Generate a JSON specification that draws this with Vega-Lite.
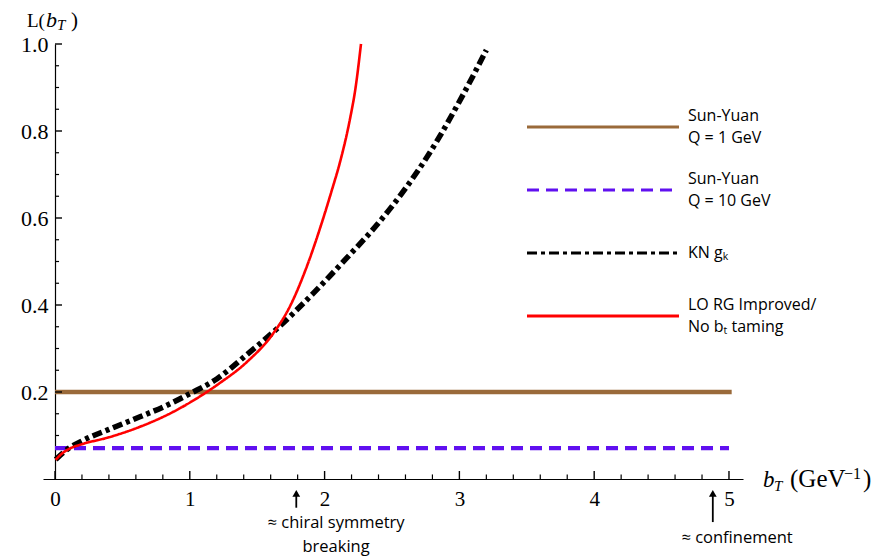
{
  "$schema": "https://vega.github.io/schema/vega-lite/v6.json",
  "width": 700,
  "height": 435,
  "autosize": {"type": "none"},
  "padding": {"left": 43, "top": 44, "right": 141, "bottom": 80},
  "background": "white",
  "config": {
    "view": {"stroke": null},
    "axis": {
      "grid": false,
      "title": null,
      "labelFont": "Liberation Serif",
      "labelColor": "black",
      "domainColor": "black",
      "tickColor": "black",
      "domainWidth": 1.2,
      "labelFlush": false,
      "labelOverlap": false
    },
    "legend": {
      "orient": "none",
      "legendX": 552,
      "legendY": 75,
      "title": null,
      "padding": 0,
      "symbolType": "M-19,0H19",
      "symbolSize": 64,
      "symbolStrokeWidth": 3,
      "labelFont": "Open Sans",
      "labelFontSize": 16,
      "labelColor": "black",
      "labelOffset": 77,
      "labelLimit": 400,
      "rowPadding": 25
    }
  },
  "data": {
    "values": [
      {"series": "Sun-Yuan Q = 1 GeV", "b": 0, "L": 0.2},
      {"series": "Sun-Yuan Q = 1 GeV", "b": 5.02, "L": 0.2},
      {"series": "Sun-Yuan Q = 10 GeV", "b": 0, "L": 0.071},
      {"series": "Sun-Yuan Q = 10 GeV", "b": 5.0, "L": 0.071},
      {"series": "KN gK", "b": 0.005, "L": 0.045},
      {"series": "KN gK", "b": 0.1, "L": 0.07},
      {"series": "KN gK", "b": 0.21, "L": 0.089},
      {"series": "KN gK", "b": 0.4, "L": 0.114},
      {"series": "KN gK", "b": 0.63, "L": 0.143},
      {"series": "KN gK", "b": 0.82, "L": 0.168},
      {"series": "KN gK", "b": 1.0, "L": 0.196},
      {"series": "KN gK", "b": 1.2, "L": 0.23},
      {"series": "KN gK", "b": 1.42, "L": 0.285},
      {"series": "KN gK", "b": 1.67, "L": 0.352},
      {"series": "KN gK", "b": 1.91, "L": 0.425},
      {"series": "KN gK", "b": 2.17, "L": 0.51},
      {"series": "KN gK", "b": 2.39, "L": 0.585},
      {"series": "KN gK", "b": 2.6, "L": 0.668},
      {"series": "KN gK", "b": 2.78, "L": 0.75},
      {"series": "KN gK", "b": 3.03, "L": 0.885},
      {"series": "KN gK", "b": 3.2, "L": 0.986},
      {"series": "LO RG Improved/ No bT taming", "b": 0.005, "L": 0.044},
      {"series": "LO RG Improved/ No bT taming", "b": 0.05, "L": 0.058},
      {"series": "LO RG Improved/ No bT taming", "b": 0.11, "L": 0.07},
      {"series": "LO RG Improved/ No bT taming", "b": 0.2, "L": 0.08},
      {"series": "LO RG Improved/ No bT taming", "b": 0.39, "L": 0.095},
      {"series": "LO RG Improved/ No bT taming", "b": 0.63, "L": 0.12},
      {"series": "LO RG Improved/ No bT taming", "b": 0.875, "L": 0.154},
      {"series": "LO RG Improved/ No bT taming", "b": 1.076, "L": 0.19},
      {"series": "LO RG Improved/ No bT taming", "b": 1.22, "L": 0.22},
      {"series": "LO RG Improved/ No bT taming", "b": 1.42, "L": 0.268},
      {"series": "LO RG Improved/ No bT taming", "b": 1.62, "L": 0.335},
      {"series": "LO RG Improved/ No bT taming", "b": 1.74, "L": 0.395},
      {"series": "LO RG Improved/ No bT taming", "b": 1.87, "L": 0.49},
      {"series": "LO RG Improved/ No bT taming", "b": 1.97, "L": 0.58},
      {"series": "LO RG Improved/ No bT taming", "b": 2.05, "L": 0.66},
      {"series": "LO RG Improved/ No bT taming", "b": 2.12, "L": 0.735},
      {"series": "LO RG Improved/ No bT taming", "b": 2.19, "L": 0.83},
      {"series": "LO RG Improved/ No bT taming", "b": 2.23, "L": 0.9},
      {"series": "LO RG Improved/ No bT taming", "b": 2.27, "L": 1.0}
    ]
  },
  "layer": [
    {
      "transform": [{"filter": "indexof(datum.series, 'Sun-Yuan') === 0"}],
      "mark": {"type": "line", "strokeWidth": 4.3, "clip": false},
      "encoding": {
        "x": {
          "field": "b", "type": "quantitative",
          "scale": {"domain": [-0.089, 5.104], "nice": false, "zero": false},
          "axis": {"orient": "bottom", "values": [0, 1, 2, 3, 4, 5], "format": "d", "labelFontSize": 21, "ticks": false, "labelPadding": 9}
        },
        "y": {
          "field": "L", "type": "quantitative",
          "scale": {"domain": [0, 1], "nice": false, "zero": false},
          "axis": {"orient": "left", "offset": -12, "values": [0.2, 0.4, 0.6, 0.8, 1.0], "format": ".1f", "labelFontSize": 22, "ticks": false, "labelPadding": 7}
        },
        "color": {
          "field": "series", "type": "nominal",
          "scale": {"domain": ["Sun-Yuan Q = 1 GeV", "Sun-Yuan Q = 10 GeV", "KN gK", "LO RG Improved/ No bT taming"], "range": ["#9a6a3a", "#6010f0", "#000000", "#ff0000"]},
          "legend": {
            "labelExpr": "datum.label == 'Sun-Yuan Q = 1 GeV' ? ['Sun-Yuan', 'Q = 1 GeV'] : datum.label == 'Sun-Yuan Q = 10 GeV' ? ['Sun-Yuan', 'Q = 10 GeV'] : datum.label == 'KN gK' ? ['', 'KN gₖ', ''] : ['\u00a0\u00a0LO RG Improved/', '\u00a0\u00a0No bₜ taming']",
            "encode": {
              "symbols": {"update": {"strokeDash": {"signal": "datum.value === 'Sun-Yuan Q = 10 GeV' ? [8, 4] : datum.value === 'KN gK' ? [6, 3, 2, 3] : [1, 0]"}}},
              "labels": {"update": {"lineHeight": {"signal": "datum.value === 'KN gK' ? 11 : 22"}, "dy": {"value": -11}}}
            }
          }
        },
        "strokeDash": {
          "field": "series", "type": "nominal",
          "scale": {"domain": ["Sun-Yuan Q = 1 GeV", "Sun-Yuan Q = 10 GeV", "KN gK", "LO RG Improved/ No bT taming"], "range": [[1, 0], [12, 7], [10, 4, 4, 4], [1, 0]]}
        }
      }
    },
    {
      "data": {"values": [{"v": 0}, {"v": 1}, {"v": 2}, {"v": 3}, {"v": 4}, {"v": 5}]},
      "mark": {"type": "rule", "color": "black", "strokeWidth": 1.4, "clip": false},
      "encoding": {"x": {"field": "v", "type": "quantitative"}, "y": {"datum": 0, "type": "quantitative"}, "y2": {"datum": 0.0184}}
    },
    {
      "data": {"values": [{"v": 0.2}, {"v": 0.4}, {"v": 0.6}, {"v": 0.8}, {"v": 1.2}, {"v": 1.4}, {"v": 1.6}, {"v": 1.8}, {"v": 2.2}, {"v": 2.4}, {"v": 2.6}, {"v": 2.8}, {"v": 3.2}, {"v": 3.4}, {"v": 3.6}, {"v": 3.8}, {"v": 4.2}, {"v": 4.4}, {"v": 4.6}, {"v": 4.8}]},
      "mark": {"type": "rule", "color": "black", "strokeWidth": 1.2, "clip": false},
      "encoding": {"x": {"field": "v", "type": "quantitative"}, "y": {"datum": 0, "type": "quantitative"}, "y2": {"datum": 0.0105}}
    },
    {
      "data": {"values": [{"v": 0.2}, {"v": 0.4}, {"v": 0.6}, {"v": 0.8}, {"v": 1.0}]},
      "mark": {"type": "rule", "color": "black", "strokeWidth": 1.4, "clip": false},
      "encoding": {"y": {"field": "v", "type": "quantitative"}, "x": {"datum": 0, "type": "quantitative"}, "x2": {"datum": 0.052}}
    },
    {
      "data": {"values": [{"v": 0.05}, {"v": 0.1}, {"v": 0.15}, {"v": 0.25}, {"v": 0.3}, {"v": 0.35}, {"v": 0.45}, {"v": 0.5}, {"v": 0.55}, {"v": 0.65}, {"v": 0.7}, {"v": 0.75}, {"v": 0.85}, {"v": 0.9}, {"v": 0.95}]},
      "mark": {"type": "rule", "color": "black", "strokeWidth": 1.2, "clip": false},
      "encoding": {"y": {"field": "v", "type": "quantitative"}, "x": {"datum": 0, "type": "quantitative"}, "x2": {"datum": 0.03}}
    },
    {
      "transform": [{"filter": "datum.series === 'KN gK'"}],
      "mark": {"type": "line", "strokeWidth": 5.5, "interpolate": "monotone", "clip": false},
      "encoding": {
        "x": {"field": "b", "type": "quantitative"},
        "y": {"field": "L", "type": "quantitative"},
        "color": {"field": "series", "type": "nominal"},
        "strokeDash": {"field": "series", "type": "nominal"}
      }
    },
    {
      "transform": [{"filter": "indexof(datum.series, 'LO RG') === 0"}],
      "mark": {"type": "line", "strokeWidth": 2.6, "interpolate": "monotone", "clip": false},
      "encoding": {
        "x": {"field": "b", "type": "quantitative"},
        "y": {"field": "L", "type": "quantitative"},
        "color": {"field": "series", "type": "nominal"},
        "strokeDash": {"field": "series", "type": "nominal"}
      }
    },
    {
      "data": {"values": [{}]},
      "mark": {"type": "text", "text": "b", "font": "Liberation Serif", "fontStyle": "italic", "fontSize": 23, "align": "left", "baseline": "alphabetic", "dx": 20, "dy": 8},
      "encoding": {"x": {"datum": 5.104, "type": "quantitative"}, "y": {"datum": 0, "type": "quantitative"}}
    },
    {
      "data": {"values": [{}]},
      "mark": {"type": "text", "text": "T", "font": "Liberation Serif", "fontStyle": "italic", "fontSize": 15, "align": "left", "baseline": "alphabetic", "dx": 31, "dy": 12},
      "encoding": {"x": {"datum": 5.104, "type": "quantitative"}, "y": {"datum": 0, "type": "quantitative"}}
    },
    {
      "data": {"values": [{}]},
      "mark": {"type": "text", "text": "(GeV", "font": "Liberation Serif", "fontSize": 25, "align": "left", "baseline": "alphabetic", "dx": 47, "dy": 8},
      "encoding": {"x": {"datum": 5.104, "type": "quantitative"}, "y": {"datum": 0, "type": "quantitative"}}
    },
    {
      "data": {"values": [{}]},
      "mark": {"type": "text", "text": "−1", "font": "Liberation Serif", "fontSize": 16, "align": "left", "baseline": "alphabetic", "dx": 101, "dy": 0},
      "encoding": {"x": {"datum": 5.104, "type": "quantitative"}, "y": {"datum": 0, "type": "quantitative"}}
    },
    {
      "data": {"values": [{}]},
      "mark": {"type": "text", "text": ")", "font": "Liberation Serif", "fontSize": 25, "align": "left", "baseline": "alphabetic", "dx": 120, "dy": 8},
      "encoding": {"x": {"datum": 5.104, "type": "quantitative"}, "y": {"datum": 0, "type": "quantitative"}}
    },
    {
      "data": {"values": [{}]},
      "mark": {"type": "text", "text": "L(", "font": "Liberation Serif", "fontSize": 19, "align": "left", "baseline": "alphabetic", "dx": -16, "dy": -17},
      "encoding": {"x": {"datum": -0.089, "type": "quantitative"}, "y": {"datum": 1, "type": "quantitative"}}
    },
    {
      "data": {"values": [{}]},
      "mark": {"type": "text", "text": "b", "font": "Liberation Serif", "fontStyle": "italic", "fontSize": 22, "align": "left", "baseline": "alphabetic", "dx": 3, "dy": -17},
      "encoding": {"x": {"datum": -0.089, "type": "quantitative"}, "y": {"datum": 1, "type": "quantitative"}}
    },
    {
      "data": {"values": [{}]},
      "mark": {"type": "text", "text": "T", "font": "Liberation Serif", "fontStyle": "italic", "fontSize": 15, "align": "left", "baseline": "alphabetic", "dx": 14, "dy": -14},
      "encoding": {"x": {"datum": -0.089, "type": "quantitative"}, "y": {"datum": 1, "type": "quantitative"}}
    },
    {
      "data": {"values": [{}]},
      "mark": {"type": "text", "text": ")", "font": "Liberation Serif", "fontSize": 21, "align": "left", "baseline": "alphabetic", "dx": 28, "dy": -17},
      "encoding": {"x": {"datum": -0.089, "type": "quantitative"}, "y": {"datum": 1, "type": "quantitative"}}
    },
    {
      "data": {"values": [{}]},
      "mark": {"type": "rule", "color": "black", "strokeWidth": 1.8, "clip": false},
      "encoding": {"x": {"datum": 1.79, "type": "quantitative"}, "y": {"datum": -0.03, "type": "quantitative"}, "y2": {"datum": -0.066}}
    },
    {
      "data": {"values": [{}]},
      "mark": {"type": "point", "shape": "triangle-up", "filled": true, "color": "black", "opacity": 1, "size": 60, "clip": false},
      "encoding": {"x": {"datum": 1.79, "type": "quantitative"}, "y": {"datum": -0.033, "type": "quantitative"}}
    },
    {
      "data": {"values": [{}]},
      "mark": {"type": "rule", "color": "black", "strokeWidth": 1.8, "clip": false},
      "encoding": {"x": {"datum": 4.88, "type": "quantitative"}, "y": {"datum": -0.03, "type": "quantitative"}, "y2": {"datum": -0.099}}
    },
    {
      "data": {"values": [{}]},
      "mark": {"type": "point", "shape": "triangle-up", "filled": true, "color": "black", "opacity": 1, "size": 60, "clip": false},
      "encoding": {"x": {"datum": 4.88, "type": "quantitative"}, "y": {"datum": -0.033, "type": "quantitative"}}
    },
    {
      "data": {"values": [{}]},
      "mark": {"type": "text", "text": ["≈ chiral symmetry", "breaking"], "font": "Open Sans", "fontSize": 16.5, "lineHeight": 24, "align": "center", "baseline": "middle", "color": "black"},
      "encoding": {"x": {"datum": 2.085, "type": "quantitative"}, "y": {"datum": -0.101, "type": "quantitative"}}
    },
    {
      "data": {"values": [{}]},
      "mark": {"type": "text", "text": "≈ confinement", "font": "Open Sans", "fontSize": 16.5, "align": "center", "baseline": "middle", "color": "black"},
      "encoding": {"x": {"datum": 5.06, "type": "quantitative"}, "y": {"datum": -0.136, "type": "quantitative"}}
    }
  ]
}
